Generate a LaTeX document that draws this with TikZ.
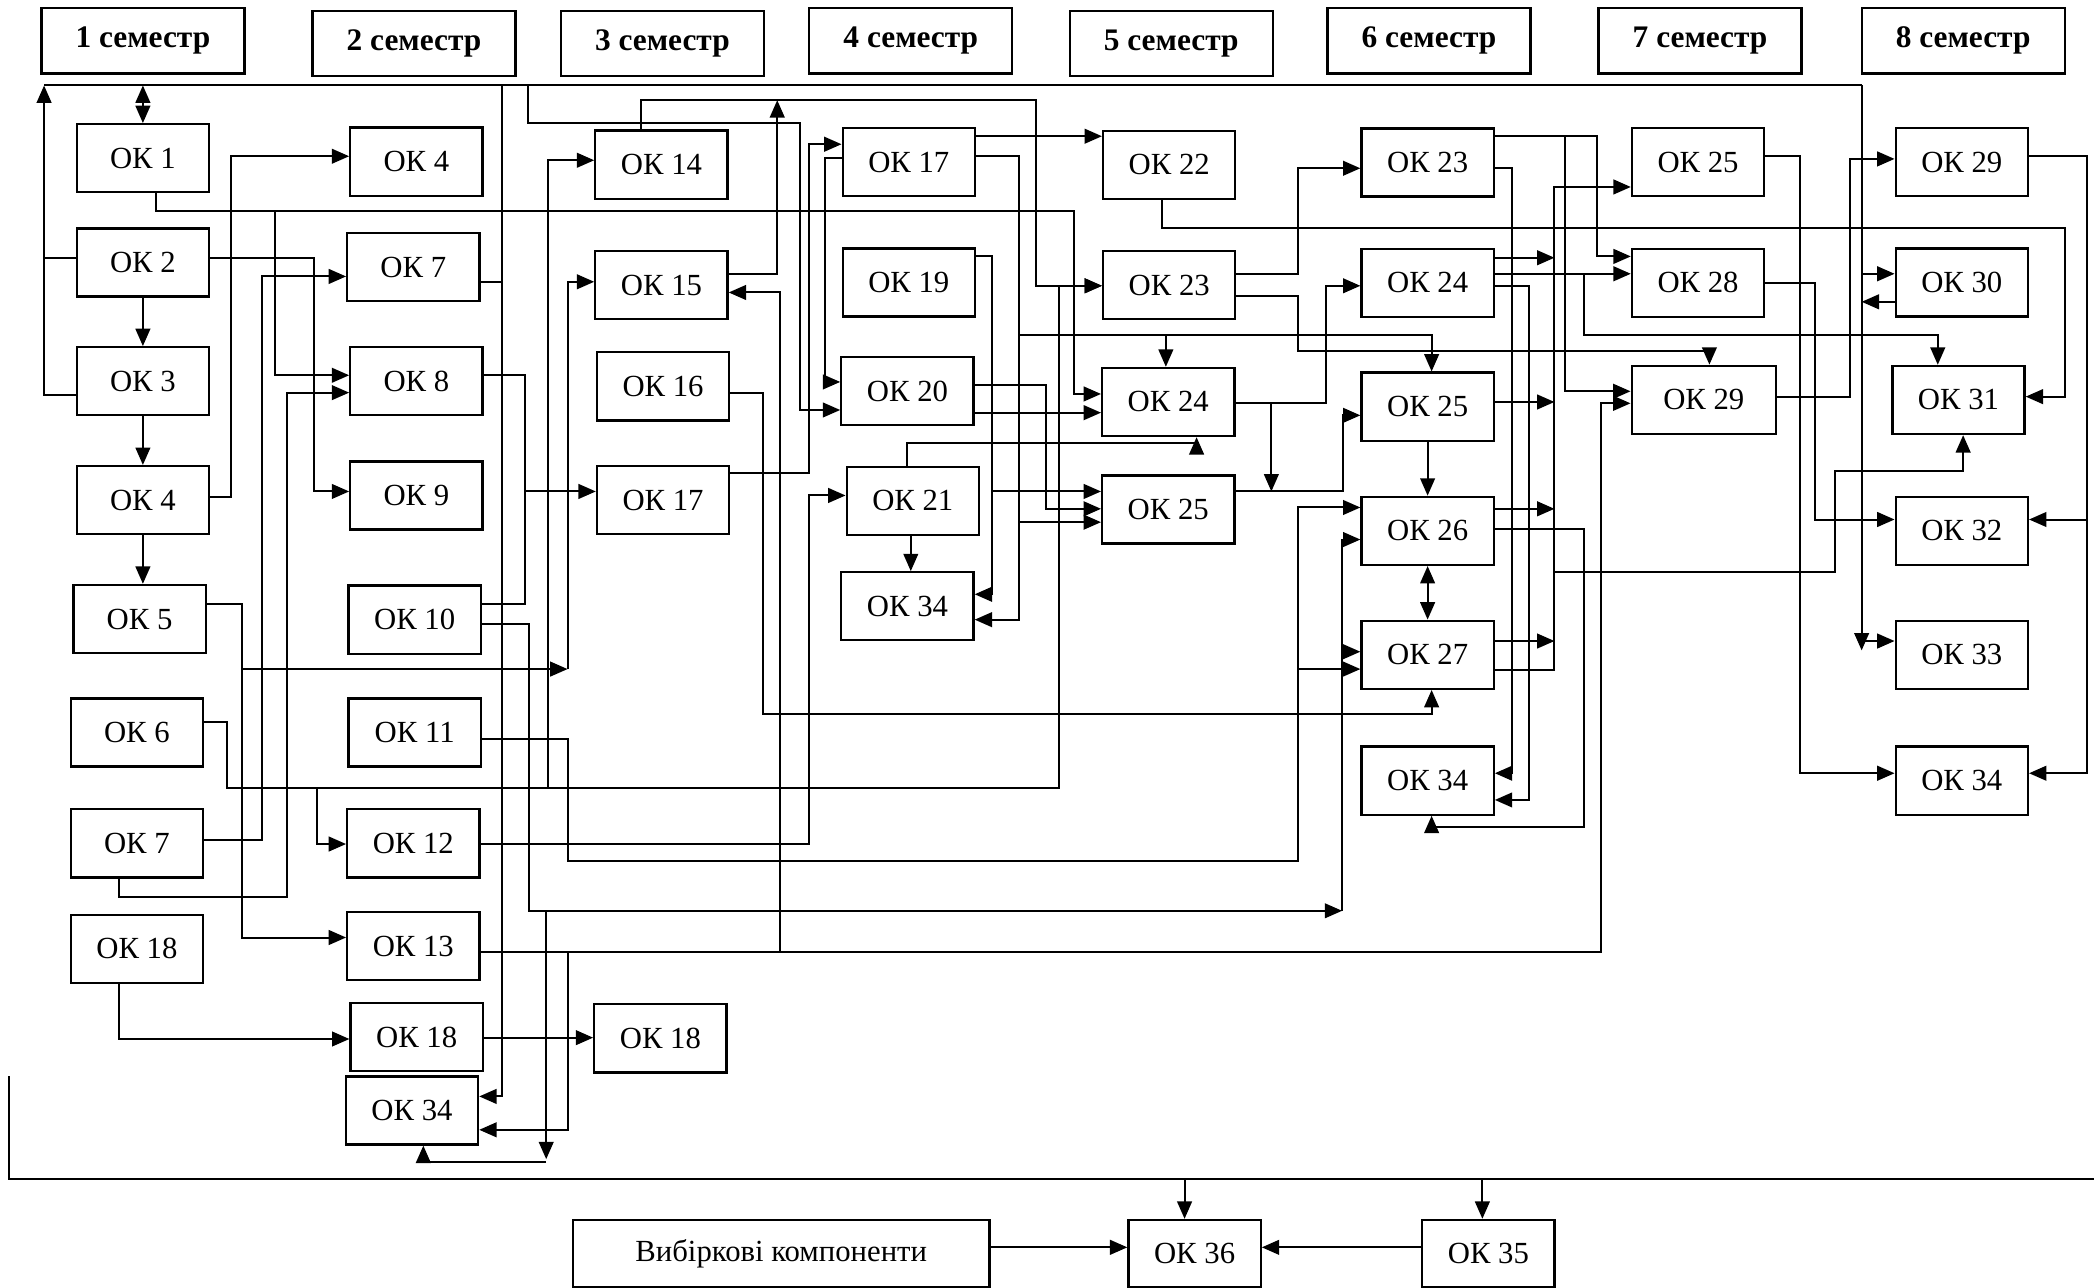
\documentclass[tikz,border=0pt]{standalone}
\usepackage{fontspec}
\setmainfont{Liberation Serif}
\usetikzlibrary{arrows.meta}

\begin{document}
\begin{tikzpicture}[x=1pt,y=-1pt,
    box/.style={draw,line width=1.7pt,minimum width=99pt,minimum height=51pt,inner sep=0pt,
      font=\fontsize{23}{27}\selectfont},
    sem/.style={box,minimum width=152pt,minimum height=49pt,font=\fontsize{23.5}{27}\selectfont\bfseries},
    line/.style={line width=1.5pt},
    arr/.style={line,-{Triangle[length=13pt,width=11pt]}},
    dbl/.style={line,{Triangle[length=13pt,width=11pt]}-{Triangle[length=13pt,width=11pt]}}]
    \useasboundingbox (0,0) rectangle (1568,964);
    % semesters
    \foreach \n/\x/\y in {1/107/30.5,2/310/32.5,3/496/32.5,4/682/30.5,
      5/877/32.5,6/1070/30.5,7/1273/30.5,8/1470/30.5}
      \node[sem] (s\n) at (\x,\y) {\n~семестр};
    % courses
    \foreach \nm/\t/\x/\y in {a1/1/107/118.5,a2/2/107/196.5,a3/3/107/285.5,a4/4/107/374.5,
      a5/5/104.5/463.5,a6/6/102.5/548.5,a7/7/102.5/631.5,a18/18/102.5/710.5,
      b4/4/311.8/121,b7/7/309.5/200,b8/8/311.8/285.5,b9/9/311.8/371,b10/10/310.5/464,
      b11/11/310.5/548.5,b12/12/309.5/631.5,b13/13/309.5/708.5,b18/18/312/776.5,b34/34/308.5/831.5,
      c14/14/495.3/123.3,c15/15/495.3/213.5,c16/16/496.5/289.3,c17/17/496.5/374.5,c18/18/494.5/777.5,
      d17/17/680.5/121.5,d19/19/680.5/211.5,d20/20/679.5/293,d21/21/683.5/375,d34/34/679.5/454,
      e22/22/875.5/123.5,e23/23/875.5/213.5,e24/24/874.8/301,e25/25/874.8/381.5,
      f23/23/1069/121.7,f24/24/1069/211.7,f25/25/1069/304.5,f26/26/1069/397.5,f27/27/1069/490.3,
      f34/34/1069/584.5,g25/25/1271.5/121.5,g28/28/1271.5/211.7,
      h29/29/1469/121.5,h30/30/1469/211.5,h31/31/1466.5/299.5,h32/32/1469/397.5,
      h33/33/1469/490.3,h34/34/1469/584.5}
      \node[box] (\nm) at (\x,\y) {ОК \t};
    \node[box,minimum width=108pt] (g29) at (1275.8,299.4) {ОК 29};
    \node[box,minimum width=312pt,minimum height=50pt] (vib) at (585,938.5) {Вибіркові компоненти};
    \node[box,minimum height=50pt] (k36) at (894.5,938.5) {ОК 36};
    \node[box,minimum height=50pt] (k35) at (1114.5,938.5) {ОК 35};

    % buses and junctions
    \coordinate (busL) at (33,64);
    \coordinate (busR) at (1394,64);
    \coordinate (busE) at (1394,487);
    \coordinate (botL) at (7,806);
    \coordinate (botR) at (1568,883);
    \coordinate (v376) at (376,64);
    \coordinate (v395) at (395,64);
    \coordinate (t1164) at (1164,0);
    \coordinate (j1) at (206,158);
    \coordinate (j5) at (181,501);
    \coordinate (j5b) at (425,501);
    \coordinate (j6a) at (237,590);
    \coordinate (j6b) at (410,590);
    \coordinate (j8) at (393,368);
    \coordinate (j10) at (1005,682);
    \coordinate (j10b) at (1005,488);
    \coordinate (j10c) at (409,682);
    \coordinate (j10d) at (409,870);
    \coordinate (j11) at (972,501);
    \coordinate (j13a) at (584,713);
    \coordinate (j13b) at (425,713);
    \coordinate (j15) at (582,75);
    \coordinate (j17a) at (763,251);
    \coordinate (j17b) at (873,251);
    \coordinate (j17c) at (763,391);
    \coordinate (j19) at (743,368);
    \coordinate (j24) at (952,302);
    \coordinate (j24b) at (952,368);
    \coordinate (j24c) at (1186,205);
    \coordinate (j23a) at (1172,102);
    \coordinate (j27) at (1164,428);
    \coordinate (j29) at (1563,389);

    \draw[line] (busL) -- (busR);
    \draw[line] (botL) |- (botR);

    % 1 semester
    \draw[dbl] (a1.north) -- (a1.north |- busL);
    \draw[arr] (a2) -- (a3);
    \draw[arr] (a3) -- (a4);
    \draw[arr] (a4.south) -- (a4.south |- a5.north);
    \draw[line] (a2.west |- 0,193) -- (busL |- 0,193);
    \draw[arr] (a3.west |- 0,296) -| (busL);
    \draw[arr] (a1.south -| 117,0) |- (804,158) |- (e24.west |- 0,295);
    \draw[arr] (j1) |- (b8.west |- 0,281);
    \draw[arr] (a2.east |- 0,193) -| (235,368) -- (b9.west |- 0,368);
    \draw[arr] (a4.east |- 0,372) -| (173,117) -- (b4.west |- 0,117);
    \draw[arr] (a5.east |- 0,452) -| (181,702) -- (b13.west |- 0,702);
    \draw[arr] (j5) -- (j5b);
    \draw[arr] (j5b) |- (c15.west |- 0,211);
    \draw[arr] (a6.east |- 0,541) -| (170,590) -| (793,214) -- (e23.west |- 0,214);
    \draw[arr] (j6a) |- (b12.west |- 0,632);
    \draw[arr] (j6b) |- (c14.west |- 0,120);
    \draw[arr] (a7.east |- 0,629) -| (196,207) -- (b7.west |- 0,207);
    \draw[arr] (a7.south -| 89,0) |- (215,672) |- (b8.west |- 0,294);
    \draw[arr] (a18.south -| 89,0) |- (b18.west |- 0,778);

    % 2 semester
    \draw[arr] (b18.east |- 0,777) -- (c18.west |- 0,777);
    \draw[line] (b7.east |- 0,211) -- (v376 |- 0,211);
    \draw[arr] (v376) |- (b34.east |- 0,821);
    \draw[line] (b8.east |- 0,281) -| (393,452) -- (b10.east |- 0,452);
    \draw[arr] (j8) -- (c17.west |- 0,368);
    \draw[arr] (b10.east |- 0,467) -| (396,682) -- (j10);
    \draw[arr] (j10) |- (f26.west |- 0,404);
    \draw[arr] (j10b) -- (f27.west |- 0,488);
    \draw[arr] (j10c) -- (409,868);
    \draw[arr] (j10d) -| (b34.south -| 317,0);
    \draw[arr] (b11.east |- 0,553) -| (425,645) -| (972,380) -- (f26.west |- 0,380);
    \draw[arr] (j11) -- (f27.west |- 0,501);
    \draw[arr] (b12.east |- 0,632) -| (606,371) -- (d21.west |- 0,371);
    \draw[arr] (b13.east |- 0,713) -| (1199,302) -- (g29.west |- 0,302);
    \draw[arr] (j13a) |- (c15.east |- 0,219);
    \draw[arr] (j13b) |- (b34.east |- 0,846);

    % 3 semester
    \draw[arr] (c14.north -| 480,0) |- (776,75) |- (e23.west |- 0,214);
    \draw[arr] (c15.east |- 0,205) -| (j15);
    \draw[arr] (c16.east |- 0,294) -| (571,535) -| (f27.south -| 1072,0);
    \draw[arr] (c17.east |- 0,354) -| (606,108) -- (d17.west |- 0,108);
    \draw[arr] (v395) |- (599,92) |- (d20.west |- 0,307);

    % 4 semester
    \draw[arr] (d17.west |- 0,118) -| (618,286) -- (d20.west |- 0,286);
    \draw[arr] (d17.east |- 0,102) -- (e22.west |- 0,102);
    \draw[arr] (d17.east |- 0,117) -| (763,464) -- (d34.east |- 0,464);
    \draw[arr] (j17a) -| (f25.north -| 1072,0);
    \draw[arr] (j17b) -- (e24.north -| 873,0);
    \draw[arr] (j17c) -- (e25.west |- 0,391);
    \draw[arr] (d19.east |- 0,192) -| (743,445) -- (d34.east |- 0,445);
    \draw[arr] (j19) -- (e25.west |- 0,368);
    \draw[arr] (d20.east |- 0,288) -| (783,381) -- (e25.west |- 0,381);
    \draw[arr] (d20.east |- 0,309) -- (e24.west |- 0,309);
    \draw[arr] (d21.north -| 679,0) |- (896,332) -- (e24.south -| 896,0);
    \draw[arr] (d21.south -| 682,0) -- (d34.north -| 682,0);

    % 5 semester
    \draw[arr] (e22.south -| 870,0) |- (1546,171) |- (h31.east |- 0,297);
    \draw[arr] (e23.east |- 0,205) -| (972,126) -- (f23.west |- 0,126);
    \draw[arr] (e23.east |- 0,222) -| (972,263) -| (g29.north -| 1280,0);
    \draw[arr] (e24.east |- 0,302) -| (993,214) -- (f24.west |- 0,214);
    \draw[arr] (j24) -- (j24b);
    \draw[arr] (e25.east |- 0,368) -| (1006,311) -- (f25.west |- 0,311);

    % 6 semester
    \draw[arr] (f23.east |- 0,102) -| (1196,192) -- (g28.west |- 0,192);
    \draw[arr] (j23a) |- (g29.west |- 0,293);
    \draw[arr] (f23.east |- 0,126) -| (1132,579) -- (f34.east |- 0,579);
    \draw[arr] (f24.east |- 0,193) -- (t1164 |- 0,193);
    \draw[arr] (f24.east |- 0,205) -- (g28.west |- 0,205);
    \draw[arr] (j24c) |- (1451,251) -- (h31.north -| 1451,0);
    \draw[arr] (f24.east |- 0,214) -| (1145,599) -- (f34.east |- 0,599);
    \draw[arr] (f25) -- (f26);
    \draw[arr] (f25.east |- 0,301) -- (t1164 |- 0,301);
    \draw[dbl] (f26) -- (f27);
    \draw[arr] (f26.east |- 0,381) -- (t1164 |- 0,381);
    \draw[arr] (f26.east |- 0,396) -| (1186,619) -| (f34.south -| 1072,0);
    \draw[arr] (f27.east |- 0,480) -- (t1164 |- 0,480);
    \draw[arr] (f27.east |- 0,502) -| (1164,140) -- (g25.west |- 0,140);
    \draw[arr] (j27) -| (1374,353) -| (h31.south -| 1470,0);

    % 7 semester
    \draw[arr] (g25.east |- 0,117) -| (1348,579) -- (h34.west |- 0,579);
    \draw[arr] (g28.east |- 0,212) -| (1359,389) -- (h32.west |- 0,389);
    \draw[arr] (g29.east |- 0,297) -| (1385,119) -- (h29.west |- 0,119);

    % 8 semester
    \draw[arr] (h29.east |- 0,117) -| (1563,579) -- (h34.east |- 0,579);
    \draw[arr] (j29) -- (h32.east |- 0,389);
    \draw[arr] (busR) -- (busE);
    \draw[arr] (busR |- 0,205) -- (h30.west |- 0,205);
    \draw[arr] (h30.west |- 0,226) -- (busR |- 0,226);
    \draw[arr] (busR |- 0,480) -- (h33.west |- 0,480);

    % final
    \draw[arr] (botR -| 887,0) -- (k36.north -| 887,0);
    \draw[arr] (botR -| 1110,0) -- (k35.north -| 1110,0);
    \draw[arr] (vib.east |- 0,934) -- (k36.west |- 0,934);
    \draw[arr] (k35.west |- 0,934) -- (k36.east |- 0,934);
\end{tikzpicture}
\end{document}
